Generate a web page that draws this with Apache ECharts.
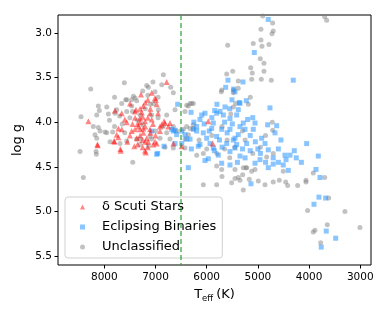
<!DOCTYPE html>
<html><head><meta charset="utf-8">
<script src="https://cdn.jsdelivr.net/npm/echarts@6/dist/echarts.min.js"></script>
<style>html,body{margin:0;padding:0;background:#fff}#c{width:390px;height:312px}</style>
</head><body><div id="c"></div>
<script>
const xTicks = [3000,4000,5000,6000,7000,8000];
const yTicks = [3.0,3.5,4.0,4.5,5.0,5.5];
const boundaryTeff = 6500;
const seriesNames = ['δ Scuti Stars','Eclipsing Binaries','Unclassified'];

const unclassified = [
[4906,2.81],[4711,2.89],[3695,2.82],[3656,2.86],[4940,2.96],[4700,2.98],[4725,3.01],[5590,3.14],[5090,3.12],[4940,3.08],[4920,3.15],[4784,3.13],[4953,3.29],[4881,3.34],[5141,3.39],[5109,3.45],[4881,3.43],[5492,3.43],[5609,3.46],[5121,3.52],[4933,3.52],[4738,3.53],[5383,3.54],[5715,3.66],[5383,3.62],[5480,3.67],[5148,3.72],[5187,3.80],[5433,3.79],[5531,3.91],[6293,3.79],[4719,4.00],[4711,4.09],
[4700,4.35],[4828,4.39],[3695,4.62],[3918,4.57],[3617,4.85],[4029,4.99],[3299,5.00],[3644,5.15],[3885,5.21],[3918,5.23],[3006,5.18],[3773,5.35],[4060,4.65],[4060,4.67],[4223,4.71],[4418,4.71],[4457,4.67],[4582,4.65],[4700,4.67],[4861,4.70],[4992,4.66],[5168,4.64],[5285,4.76],[5297,4.59],[5056,4.53],[5121,4.55],[5232,4.51],[4504,4.55],[6066,4.70],[5805,4.70],[5701,4.61],
[6814,4.28],[6652,4.29],[6424,4.29],[6195,4.37],[6066,4.35],[5805,4.49],[5707,4.53],[5447,4.63],[5383,4.62],[5350,4.65],[5512,4.68],[5285,4.51],[5447,4.53],[5219,4.51],
[8266,3.63],[7609,3.56],[8455,3.94],[8117,3.82],[8097,3.87],[8148,3.92],[7953,3.83],[7921,3.91],[8215,4.05],[8117,4.06],[7791,3.90],[7660,3.79],[7582,3.75],[7400,3.73],[7465,3.82],[7172,3.59],[8474,4.33],[8162,4.33],[8156,4.36],[6847,3.47],[6879,3.58],[6703,3.61],[7140,3.61],[7010,3.66],[6261,3.79],[6359,3.82],[6424,3.88],[7953,4.12],[8084,4.10],[7889,4.22],[7837,4.11],[7758,3.86],[7562,3.88],[7562,3.75],[7465,3.75],[7433,3.71],[7367,3.76],[7043,3.79],[6945,3.86],[7074,3.92],[6781,3.92],[6652,4.05],[6587,4.10],[6391,4.05],[6261,4.07],[6359,4.14],[6781,4.12],[6912,4.18],[7107,4.16],[7302,4.19],[7140,4.27],[8410,4.62],[7445,4.45],[7986,4.11],[8182,4.14],[8148,4.18],[7693,4.24],[7562,4.21],[7367,4.19],[7302,4.25],[7074,4.19],
[6326,3.79],[6391,3.81],[6619,3.86],[6652,3.67],[6326,4.07],[6261,4.03],[6456,4.08],[6717,4.19],[6424,4.19],[5480,3.83],[5707,3.64],[5480,3.64],
[7500,3.95],[7350,3.98],[7250,4.03],[7650,4.02],[7800,4.05],[7450,3.88],[7200,3.85],[7100,3.80],[7700,3.93],[7300,3.92],[6950,3.95],[6850,4.05],[7600,4.12],[7000,4.10],[7150,3.70],[7250,3.65],[7050,3.55],[6950,3.72],[7800,3.72],[7900,3.98],
[5700,4.05],[5600,4.20],[5300,4.10],[5900,4.15],[6000,4.30],[5450,4.28],[5100,4.35],[4950,4.28],[5800,4.35],[5550,4.40],[6150,4.20],[5250,4.20],[4850,4.15],[5650,4.30]
];

const eclipsingBinaries = [
[4797,2.85],[5070,3.22],[5584,3.53],[5291,3.55],[4309,3.53],[5629,3.61],[5473,3.63],[5506,3.75],[5363,3.78],[5226,3.76],[4764,3.84],[5844,3.87],[5642,3.83],[5383,3.86],
[4809,4.03],[4633,4.04],[4666,4.12],[4047,4.24],[4289,4.32],[4471,4.37],[4373,4.37],[3820,4.38],[5056,4.01],[5199,3.97],[5090,4.08],[4926,4.18],[4861,4.24],[4797,4.31],
[3865,4.53],[3787,4.62],[3807,4.84],[3676,4.85],[3904,4.92],[3664,5.22],[3480,5.30],[3762,5.40],[5135,4.69],[4406,4.54],[4504,4.48],[4797,4.51],[4700,4.47],[5056,4.46],[4959,4.42],[4700,4.40],
[6567,3.80],[6306,3.89],[6684,4.08],[6619,4.09],[6488,4.10],[6424,4.14],[6834,4.27],[6619,4.24],[6488,4.24],[6391,4.19],[6195,4.10],[6164,4.27],[7074,4.10],
[6097,3.92],[6033,3.90],[6131,3.97],[5805,3.90],[5740,3.88],[5675,3.92],[5545,3.96],[5414,3.92],[5350,3.79],[5447,3.66],[6652,4.10],[6587,4.14],[6326,4.19],[6261,4.08],[6066,4.12],[5902,4.07],[5805,4.16],[5707,4.08],[5545,4.08],[5383,4.14],[5252,4.08],[5609,4.24],[5935,4.24],[6131,4.25],[5414,4.25],[5219,4.24],[5285,4.01],[5871,4.01],[6195,4.05],[5447,4.18],[6000,4.18],
[6977,4.36],[6359,4.51],[5969,4.41],[6033,4.43],[5871,4.29],[5545,4.33],[5447,4.29],[5350,4.38],[5707,4.46],[5545,4.48],[5773,4.37],[6957,4.35],
[5650,4.00],[5500,4.02],[5600,4.12],[5750,4.20],[5950,4.10],[5350,4.05],[5150,4.15],[5050,4.22],[5000,4.30],[5300,4.30],[5850,4.32],[6050,4.02],[5480,4.20],[5150,4.32],[4950,4.35],[5700,4.28],[5900,3.95],[6250,4.00],[6300,4.30],[5250,4.40],[4850,4.45],[4600,4.30],[4550,4.20],[4450,4.42],[4250,4.40],[4150,4.45],[5400,4.45],[5800,3.80],[5550,3.85],[5100,3.95],[4600,4.45]
];

const deltaScuti = [
[8312,3.99],[7791,3.87],[7660,3.90],[7283,3.69],[7074,3.67],[7400,3.88],[7562,4.00],[7269,3.89],[7205,3.99],[7107,3.90],
[6781,3.55],[6996,3.75],[7498,3.79],[8136,4.25],[7687,4.30],[7810,4.21],[7726,4.17],[7414,4.27],[7205,4.32],[7140,4.22],[6977,4.24],[6912,4.05],[6834,3.99],[6717,4.01],[6652,4.24],[7335,4.05],[7302,3.96],[7238,3.82],[7381,3.86],[7726,4.07],[7758,4.14],[7465,4.10],[7238,4.12],[7367,4.18],
[8129,4.26],[7804,4.22],[7660,4.08],[7400,4.08],[7238,4.07],[7107,4.08],[7172,4.18],[7043,4.25],
[7010,3.73],[6977,3.80],[7074,3.97],[6814,4.01],[6879,4.03],[6750,4.05],[6912,4.10],[7010,4.22],[5969,3.99],[5882,4.24],
[7680,4.32],[7191,4.34],[6488,4.27],
[7300,4.00],[7200,4.05],[7250,3.94],[7350,4.02],[7150,3.95],[7100,4.12],[7300,4.15],[7200,4.22],[7350,4.25],[7250,4.28],[7150,4.28],[7450,4.02],[7500,4.15],[7050,4.02],[7300,3.85],[7200,3.78],[7100,3.85],[7400,3.95],[7300,4.08],[7250,4.20],[7150,3.75],[6950,3.90],[7000,4.15],[7600,3.97],[7550,4.22]
];

const FONT = 'DejaVu Sans';
const chart = echarts.init(document.getElementById('c'), null, {renderer:'canvas'});
chart.setOption({
  animation:false,
  textStyle:{fontFamily:FONT},
  grid:{left:58, right:19, top:15, bottom:47, show:true, borderColor:'#000', borderWidth:1, backgroundColor:'transparent'},
  xAxis:{
    type:'value', min:2790, max:8905, inverse:true,
    name:'{t|T}{s|eff}{t|(K)}', nameLocation:'middle', nameGap:22,
    nameTextStyle:{color:'#000', rich:{t:{fontSize:13, fontFamily:FONT, color:'#000'}, s:{fontSize:8.5, fontFamily:FONT, color:'#000', padding:[7,3,0,0]}}},
    axisLine:{show:false},
    splitLine:{show:false},
    axisTick:{show:true, length:3.5, customValues:xTicks, lineStyle:{color:'#000'}},
    axisLabel:{customValues:xTicks, margin:7, fontSize:10.5, color:'#000', fontFamily:FONT, formatter:v=>String(Math.round(v))}
  },
  yAxis:{
    type:'value', min:2.8, max:5.6, inverse:true,
    name:'log g', nameLocation:'middle', nameGap:31,
    nameTextStyle:{color:'#000', fontSize:13, fontFamily:FONT},
    axisLine:{show:false},
    splitLine:{show:false},
    axisTick:{show:true, length:3.5, customValues:yTicks, lineStyle:{color:'#000'}},
    axisLabel:{customValues:yTicks, margin:6, fontSize:10.5, color:'#000', fontFamily:FONT, formatter:v=>Number(v).toFixed(1)}
  },
  legend:{
    orient:'vertical', left:65, top:197,
    data:seriesNames,
    itemWidth:5, itemHeight:5, itemGap:6,
    padding:[3,6,4,15],
    borderColor:'#d0d0d0', borderWidth:1, borderRadius:3,
    backgroundColor:'rgba(255,255,255,0.8)',
    textStyle:{fontSize:13, color:'#000', fontFamily:FONT, lineHeight:14, padding:[0,0,0,12]}
  },
  series:[
    {name:seriesNames[2], type:'scatter', symbol:'circle', symbolSize:5, data:unclassified,
      itemStyle:{color:'rgba(128,128,128,0.6)'}, z:2,
      markLine:{silent:true, symbol:'none', label:{show:false},
        lineStyle:{color:'rgba(44,160,44,0.8)', type:[5,3], width:1.5},
        data:[{xAxis:boundaryTeff}]}},
    {name:seriesNames[1], type:'scatter', symbol:'rect', symbolSize:5, data:eclipsingBinaries,
      itemStyle:{color:'rgba(30,144,255,0.65)'}, z:3},
    {name:seriesNames[0], type:'scatter', symbol:'triangle', symbolSize:6, data:deltaScuti,
      itemStyle:{color:'rgba(255,0,0,0.6)'}, z:4}
  ]
});
</script></body></html>
